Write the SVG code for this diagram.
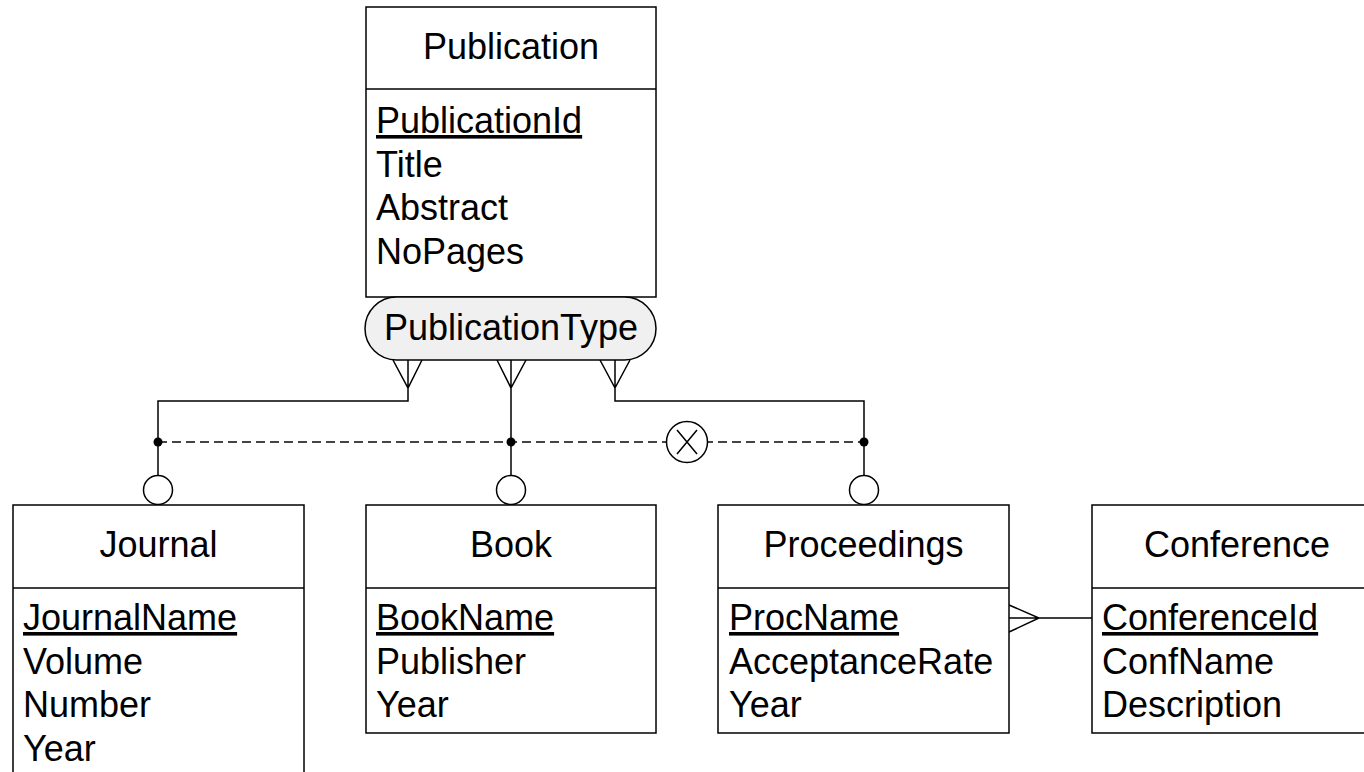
<svg xmlns="http://www.w3.org/2000/svg" width="1364" height="772" viewBox="0 0 1364 772">
  <style>
    .box { fill: #ffffff; stroke: #000000; stroke-width: 1.5; }
    .div { stroke: #000000; stroke-width: 1.5; }
    .ttl { font-family: "Liberation Sans", Arial, sans-serif; font-size: 36px; fill: #000000; text-anchor: middle; }
    .att { font-family: "Liberation Sans", Arial, sans-serif; font-size: 36px; fill: #000000; }
    .key { text-decoration: underline; }
    .ln { fill: none; stroke: #000000; stroke-width: 1.5; }
    .dash { fill: none; stroke: #444444; stroke-width: 2; stroke-dasharray: 9 5; }
    .dot { fill: #000000; }
    .opt { fill: #ffffff; stroke: #000000; stroke-width: 1.5; }
  </style>

  <rect width="1364" height="772" fill="#ffffff"/>

  <!-- connectors -->
  <g id="connectors">
    <!-- crow's feet under the discriminator -->
    <path class="ln" d="M393,360 L408,388 L422,360 M408,360 L408,401 L158,401 L158,442"/>
    <path class="ln" d="M497,360 L511,388 L526,360 M511,360 L511,442"/>
    <path class="ln" d="M600,360 L615,388 L630,360 M615,360 L615,401 L864,401 L864,442"/>
    <!-- exclusive line -->
    <line class="dash" x1="158" y1="442" x2="864" y2="442"/>
    <circle class="dot" cx="158" cy="442" r="4.5"/>
    <circle class="dot" cx="511" cy="442" r="4.5"/>
    <circle class="dot" cx="864" cy="442" r="4.5"/>
    <circle class="opt" cx="687" cy="442" r="20.5"/>
    <path class="ln" d="M677,430 L697,454 M697,430 L677,454" stroke-width="2.2"/>
    <!-- drops to subtypes with optionality circles -->
    <line class="ln" x1="158" y1="442" x2="158" y2="475"/>
    <line class="ln" x1="511" y1="442" x2="511" y2="475"/>
    <line class="ln" x1="864" y1="442" x2="864" y2="475"/>
    <circle class="opt" cx="158" cy="490" r="14.5"/>
    <circle class="opt" cx="511" cy="490" r="14.5"/>
    <circle class="opt" cx="864" cy="490" r="14.5"/>
    <!-- Proceedings to Conference -->
    <path class="ln" d="M1009,605 L1039,618 L1009,632 M1009,618 L1092,618"/>
  </g>

  <!-- Publication entity -->
  <g id="publication">
    <rect class="box" x="366" y="7" width="290" height="290"/>
    <line class="div" x1="366" y1="89" x2="656" y2="89"/>
    <text class="ttl" x="511" y="59">Publication</text>
    <text class="att key" x="376" y="133">PublicationId</text>
    <text class="att" x="376" y="176.5">Title</text>
    <text class="att" x="376" y="220">Abstract</text>
    <text class="att" x="376" y="263.5">NoPages</text>
  </g>

  <!-- discriminator -->
  <g id="publication-type">
    <rect x="365" y="297" width="291" height="63" rx="31.5" ry="31.5" fill="#f0f0f0" stroke="#000000" stroke-width="1.5"/>
    <text class="ttl" x="511" y="340">PublicationType</text>
  </g>

  <!-- Journal entity -->
  <g id="journal">
    <rect class="box" x="13" y="505" width="291" height="300"/>
    <line class="div" x1="13" y1="588" x2="304" y2="588"/>
    <text class="ttl" x="158.5" y="557">Journal</text>
    <text class="att key" x="23" y="630">JournalName</text>
    <text class="att" x="23" y="673.5">Volume</text>
    <text class="att" x="23" y="717">Number</text>
    <text class="att" x="23" y="760.5">Year</text>
  </g>

  <!-- Book entity -->
  <g id="book">
    <rect class="box" x="366" y="505" width="290" height="228"/>
    <line class="div" x1="366" y1="588" x2="656" y2="588"/>
    <text class="ttl" x="511" y="557">Book</text>
    <text class="att key" x="376" y="630">BookName</text>
    <text class="att" x="376" y="673.5">Publisher</text>
    <text class="att" x="376" y="717">Year</text>
  </g>

  <!-- Proceedings entity -->
  <g id="proceedings">
    <rect class="box" x="718" y="505" width="291" height="228"/>
    <line class="div" x1="718" y1="588" x2="1009" y2="588"/>
    <text class="ttl" x="863.5" y="557">Proceedings</text>
    <text class="att key" x="729" y="630">ProcName</text>
    <text class="att" x="729" y="673.5">AcceptanceRate</text>
    <text class="att" x="729" y="717">Year</text>
  </g>

  <!-- Conference entity -->
  <g id="conference">
    <rect class="box" x="1092" y="505" width="290" height="228"/>
    <line class="div" x1="1092" y1="588" x2="1382" y2="588"/>
    <text class="ttl" x="1237" y="557">Conference</text>
    <text class="att key" x="1102" y="630">ConferenceId</text>
    <text class="att" x="1102" y="673.5">ConfName</text>
    <text class="att" x="1102" y="717">Description</text>
  </g>
</svg>
